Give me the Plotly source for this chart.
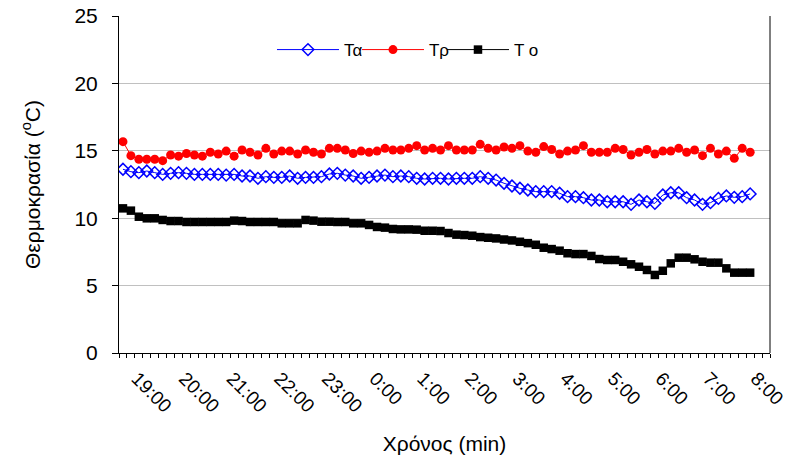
import plotly.graph_objects as go

# Sampling times every 10 minutes, 18:50 -> 8:00
start_h, start_m = 18, 50
times = []
for k in range(80):
    tot = start_h * 60 + start_m + 10 * k
    times.append(f"{(tot // 60) % 24}:{tot % 60:02d}")

# Air temperature (Tα)
t_alpha = [13.63, 13.45, 13.38, 13.5, 13.38, 13.25, 13.33, 13.38, 13.33, 13.25,
           13.25, 13.25, 13.25, 13.2, 13.25, 13.13, 13.13, 12.96, 13.08, 13.03,
           13.03, 13.13, 12.96, 13.03, 13.03, 13.08, 13.28, 13.33, 13.2, 13.13,
           12.96, 13.03, 13.13, 13.2, 13.08, 13.13, 13.08, 12.96, 12.91, 12.96,
           12.96, 12.91, 12.96, 12.96, 12.96, 13.08, 12.96, 12.83, 12.59, 12.39,
           12.22, 12.09, 11.97, 11.97, 11.97, 11.85, 11.6, 11.6, 11.52, 11.35,
           11.35, 11.22, 11.22, 11.22, 11.03, 11.35, 11.22, 11.1, 11.72, 11.89,
           11.89, 11.52, 11.35, 11.03, 11.15, 11.47, 11.65, 11.55, 11.6, 11.8]

# Tρ
t_rho = [15.68, 14.64, 14.37, 14.37, 14.37, 14.27, 14.69, 14.6, 14.8, 14.69,
         14.6, 14.89, 14.76, 14.98, 14.6, 15.06, 14.89, 14.69, 15.18, 14.76,
         14.98, 14.98, 14.76, 15.06, 14.89, 14.76, 15.18, 15.18, 15.06, 14.8,
         14.98, 14.89, 14.98, 15.18, 15.06, 15.06, 15.18, 15.38, 15.06, 15.18,
         15.06, 15.38, 15.06, 15.06, 15.06, 15.48, 15.18, 15.06, 15.28, 15.18,
         15.38, 14.98, 14.89, 15.31, 15.1, 14.76, 14.98, 15.06, 15.38, 14.89,
         14.89, 14.89, 15.18, 15.1, 14.69, 14.89, 15.1, 14.76, 14.98, 14.98,
         15.18, 14.89, 15.06, 14.64, 15.18, 14.76, 14.98, 14.44, 15.18, 14.89]

# Outdoor temperature (Το)
t_o = [10.73, 10.56, 10.11, 9.99, 9.99, 9.87, 9.79, 9.79, 9.72, 9.72,
       9.72, 9.72, 9.72, 9.72, 9.82, 9.79, 9.72, 9.72, 9.72, 9.72,
       9.62, 9.62, 9.62, 9.87, 9.82, 9.74, 9.74, 9.72, 9.72, 9.62,
       9.62, 9.5, 9.35, 9.3, 9.2, 9.17, 9.17, 9.15, 9.07, 9.07,
       9.05, 8.9, 8.78, 8.75, 8.7, 8.6, 8.55, 8.5, 8.42, 8.35,
       8.25, 8.15, 8.03, 7.81, 7.71, 7.59, 7.4, 7.34, 7.34, 7.2,
       6.97, 6.9, 6.9, 6.77, 6.58, 6.4, 6.16, 5.79, 6.1, 6.65,
       7.07, 7.07, 6.95, 6.77, 6.7, 6.7, 6.28, 5.96, 5.96, 5.96]

hour_labels = ["19:00", "20:00", "21:00", "22:00", "23:00", "0:00", "1:00",
               "2:00", "3:00", "4:00", "5:00", "6:00", "7:00", "8:00"]

idx = list(range(len(times)))
label_pos = [times.index(h) for h in hour_labels]

FONT = "Liberation Sans, Arial, sans-serif"

fig = go.Figure()
fig.add_trace(go.Scatter(
    x=idx, y=t_alpha, name="Τα", mode="lines+markers",
    line=dict(color="#0000FF", width=1),
    marker=dict(symbol="diamond-open", size=9, color="#0000FF", line=dict(width=1.5)),
))
fig.add_trace(go.Scatter(
    x=idx, y=t_rho, name="Τρ", mode="lines+markers",
    line=dict(color="#FF0000", width=1),
    marker=dict(symbol="circle", size=9, color="#FF0000"),
))
fig.add_trace(go.Scatter(
    x=idx, y=t_o, name="Τ ο", mode="lines+markers",
    line=dict(color="#000000", width=1),
    marker=dict(symbol="square", size=8.5, color="#000000"),
))
# empty legend slot so the last legend label gets enough room
fig.add_trace(go.Scatter(
    x=[None], y=[None], name="", mode="lines",
    line=dict(color="rgba(0,0,0,0)", width=0), hoverinfo="skip",
))

fig.update_layout(
    width=786, height=461,
    margin=dict(l=119, r=16, t=16, b=108, autoexpand=False),
    paper_bgcolor="white", plot_bgcolor="white",
    font=dict(family=FONT, size=18, color="black"),
    showlegend=True,
    legend=dict(orientation="h", x=0.235, y=0.899, xanchor="left", yanchor="middle",
                bgcolor="rgba(0,0,0,0)", font=dict(size=17), itemwidth=62,
                entrywidth=8, tracegroupgap=0),
)
fig.update_xaxes(
    range=[-0.5, 81.5], automargin=False, ticklabeloverflow="allow",
    tickmode="array", tickvals=label_pos, ticktext=hour_labels,
    tickangle=45, ticks="", ticklabelstandoff=6, ticklabelshift=6,
    showline=True, linecolor="black", linewidth=1,
    mirror=False, showgrid=False, zeroline=False,
    tickfont=dict(size=19),
    minor=dict(tickmode="linear", tick0=-0.5, dtick=1, ticks="outside",
               ticklen=4, tickcolor="black", showgrid=False),
    title=dict(text="Χρόνος (min)", font=dict(size=21), standoff=20),
)
fig.update_yaxes(
    range=[0, 25], dtick=5, ticks="outside", ticklen=6, tickcolor="black",
    automargin=False, ticklabeloverflow="allow",
    showline=True, linecolor="black", linewidth=1,
    showgrid=True, gridcolor="#C0C0C0", gridwidth=1, zeroline=False,
    tickfont=dict(size=21), ticklabelstandoff=10,
    title=dict(text="Θερμοκρασία (<sup>o</sup>C)", font=dict(size=21), standoff=28),
)
# right border of the plotting area
fig.add_shape(type="line", xref="paper", yref="paper", x0=1, x1=1, y0=0, y1=1,
              line=dict(color="black", width=1))

fig.write_html("out.html")
